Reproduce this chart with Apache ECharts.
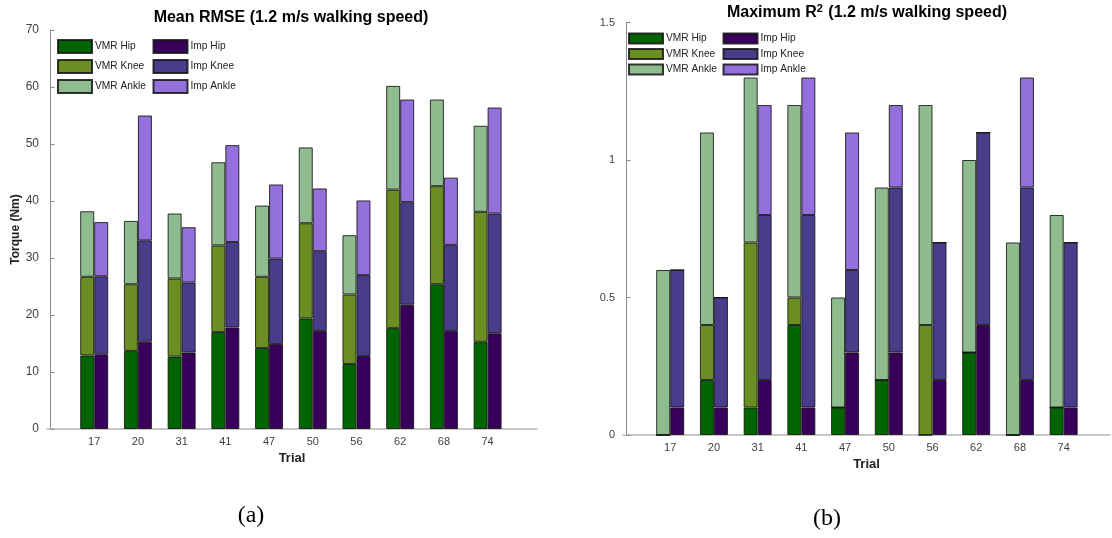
<!DOCTYPE html>
<html>
<head>
<meta charset="utf-8">
<script src="https://cdn.jsdelivr.net/npm/echarts@6/dist/echarts.min.js"></script>
<style>
  html, body { margin: 0; padding: 0; background: #fff; }
  #chart { width: 1112px; height: 538px; }
</style>
</head>
<body>
<div id="chart"></div>
<script>
// Trials shown on both panels
const trials = ['17', '20', '31', '41', '47', '50', '56', '62', '68', '74'];

// Panel (a): mean RMSE per joint (Nm), stacked hip -> knee -> ankle
const rmseVmrHip   = [12.9, 13.7, 12.7, 17.0, 14.2, 19.4, 11.4, 17.7, 25.4, 15.3];
const rmseVmrKnee  = [13.8, 11.7, 13.7, 15.2, 12.5, 16.7, 12.2, 24.3, 17.2, 22.8];
const rmseVmrAnkle = [11.5, 11.1, 11.4, 14.6, 12.5, 13.3, 10.4, 18.2, 15.2, 15.1];
const rmseImpHip   = [13.1, 15.3, 13.4, 17.8, 14.9, 17.2, 12.8, 21.8, 17.2, 16.8];
const rmseImpKnee  = [13.7, 17.8, 12.3, 15.0, 15.0, 14.0, 14.2, 18.0, 15.1, 21.0];
const rmseImpAnkle = [ 9.5, 21.9,  9.7, 17.0, 13.0, 11.0, 13.1, 18.0, 11.8, 18.6];

// Panel (b): maximum R^2 per joint, stacked hip -> knee -> ankle
const r2VmrHip   = [0.0, 0.2, 0.1, 0.4, 0.1, 0.2, 0.0, 0.3, 0.0, 0.1];
const r2VmrKnee  = [0.0, 0.2, 0.6, 0.1, 0.0, 0.0, 0.4, 0.0, 0.0, 0.0];
const r2VmrAnkle = [0.6, 0.7, 0.6, 0.7, 0.4, 0.7, 0.8, 0.7, 0.7, 0.7];
const r2ImpHip   = [0.1, 0.1, 0.2, 0.1, 0.3, 0.3, 0.2, 0.4, 0.2, 0.1];
const r2ImpKnee  = [0.5, 0.4, 0.6, 0.7, 0.3, 0.6, 0.5, 0.7, 0.7, 0.6];
const r2ImpAnkle = [0.0, 0.0, 0.4, 0.5, 0.5, 0.3, 0.0, 0.0, 0.4, 0.0];

const rmseTicks = [0, 10, 20, 30, 40, 50, 60, 70];
const r2Ticks = [0, 0.5, 1, 1.5];

const colors = {
  'VMR Hip': '#006400',
  'VMR Knee': '#6B8E23',
  'VMR Ankle': '#8FBC8F',
  'Imp Hip': '#38005A',
  'Imp Knee': '#483D8B',
  'Imp Ankle': '#9370DB'
};

const FONT = '"Liberation Sans", Arial, Helvetica, sans-serif';
const positions = trials.map((t, i) => i + 1);

// Each datum is [value, position]; the value column comes first so the
// stack is accumulated on the y dimension while x stays a plain value axis.
function barSeries(name, values, stack, idx) {
  return {
    name: name,
    type: 'bar',
    xAxisIndex: idx,
    yAxisIndex: idx,
    stack: stack + idx,
    barWidth: 14,
    barGap: '0%',
    encode: { x: 1, y: 0 },
    data: values.map((v, i) => [v, positions[i]]),
    itemStyle: {
      color: colors[name],
      borderColor: 'rgba(20,20,20,0.85)',
      borderWidth: 1
    },
    emphasis: { disabled: true },
    animation: false
  };
}

function xAxisFor(idx, min, max) {
  return {
    type: 'value',
    gridIndex: idx,
    min: min,
    max: max,
    axisLine: { show: true, onZero: false, lineStyle: { color: '#b4b4b4', width: 1.5 } },
    axisTick: { show: false },
    splitLine: { show: false },
    axisLabel: {
      customValues: positions,
      formatter: v => trials[Math.round(v) - 1] || '',
      color: '#404040',
      fontFamily: FONT,
      fontSize: 11,
      margin: 7
    },
    name: 'Trial',
    nameLocation: 'middle',
    nameGap: 23,
    nameTextStyle: { fontFamily: FONT, fontWeight: 'bold', fontSize: 13, color: '#222' }
  };
}

function yAxisFor(idx, ticks, fontSize, extra) {
  return Object.assign({
    type: 'value',
    gridIndex: idx,
    min: ticks[0],
    max: ticks[ticks.length - 1],
    interval: ticks[1] - ticks[0],
    axisLine: { show: true, lineStyle: { color: '#8a8a8a', width: 1 } },
    axisTick: { show: true, inside: true, length: 4, lineStyle: { color: '#8a8a8a' } },
    splitLine: { show: false },
    axisLabel: { color: '#404040', fontFamily: FONT, fontSize: fontSize, margin: 8 }
  }, extra || {});
}

function legendFor(names, left, top, itemHeight, gap) {
  return {
    orient: 'vertical',
    left: left,
    top: top,
    icon: 'rect',
    itemWidth: 34,
    itemHeight: itemHeight,
    itemGap: gap,
    padding: 0,
    selectedMode: false,
    textStyle: { fontFamily: FONT, fontSize: 10.2, color: '#222', padding: [0, 0, 0, -2] },
    data: names
  };
}

const chart = echarts.init(document.getElementById('chart'), null, { renderer: 'canvas' });

chart.setOption({
  backgroundColor: '#fff',
  animation: false,
  grid: [
    { left: 47, right: 575, top: 30, bottom: 109 },
    { left: 623, right: 2, top: 22.5, bottom: 103 }
  ],
  xAxis: [xAxisFor(0, -0.08, 11.13), xAxisFor(1, -0.08, 11.06)],
  yAxis: [
    yAxisFor(0, rmseTicks, 12, {
      name: 'Torque (Nm)',
      nameLocation: 'middle',
      nameGap: 22,
      nameTextStyle: { fontFamily: FONT, fontWeight: 'bold', fontSize: 12, color: '#222' }
    }),
    yAxisFor(1, r2Ticks, 11)
  ],
  legend: [
    legendFor(['VMR Hip', 'VMR Knee', 'VMR Ankle'], 57, 39, 13, 5),
    legendFor(['Imp Hip', 'Imp Knee', 'Imp Ankle'], 152.5, 39, 13, 5),
    legendFor(['VMR Hip', 'VMR Knee', 'VMR Ankle'], 628, 32.5, 10, 3.5),
    legendFor(['Imp Hip', 'Imp Knee', 'Imp Ankle'], 722.5, 32.5, 10, 3.5)
  ],
  series: [
    barSeries('VMR Hip', rmseVmrHip, 'vmr', 0),
    barSeries('VMR Knee', rmseVmrKnee, 'vmr', 0),
    barSeries('VMR Ankle', rmseVmrAnkle, 'vmr', 0),
    barSeries('Imp Hip', rmseImpHip, 'imp', 0),
    barSeries('Imp Knee', rmseImpKnee, 'imp', 0),
    barSeries('Imp Ankle', rmseImpAnkle, 'imp', 0),
    barSeries('VMR Hip', r2VmrHip, 'vmr', 1),
    barSeries('VMR Knee', r2VmrKnee, 'vmr', 1),
    barSeries('VMR Ankle', r2VmrAnkle, 'vmr', 1),
    barSeries('Imp Hip', r2ImpHip, 'imp', 1),
    barSeries('Imp Knee', r2ImpKnee, 'imp', 1),
    barSeries('Imp Ankle', r2ImpAnkle, 'imp', 1)
  ],
  graphic: [
    {
      type: 'text', x: 291, y: 18,
      style: {
        text: 'Mean RMSE (1.2 m/s walking speed)',
        font: 'bold 16px ' + FONT, fill: '#000',
        align: 'center', verticalAlign: 'middle'
      }
    },
    {
      type: 'text', x: 867, y: 13,
      style: {
        text: '{t|Maximum R}{s|2}{t| (1.2 m/s walking speed)}',
        fill: '#000',
        align: 'center', verticalAlign: 'middle',
        rich: {
          t: { font: 'bold 16px ' + FONT, fill: '#000', lineHeight: 20 },
          s: { font: 'bold 11px ' + FONT, fill: '#000', lineHeight: 20, padding: [0, 1, 9, 0] }
        }
      }
    },
    {
      type: 'text', x: 251, y: 516,
      style: {
        text: '(a)', font: '24px "Liberation Serif", "Times New Roman", serif',
        fill: '#000', align: 'center', verticalAlign: 'middle'
      }
    },
    {
      type: 'text', x: 827, y: 519,
      style: {
        text: '(b)', font: '24px "Liberation Serif", "Times New Roman", serif',
        fill: '#000', align: 'center', verticalAlign: 'middle'
      }
    }
  ]
});
</script>
</body>
</html>
